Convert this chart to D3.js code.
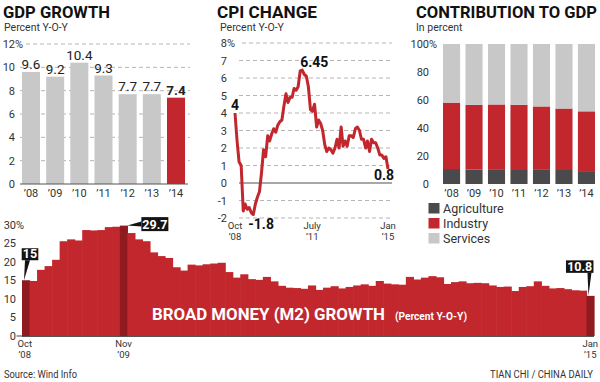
<!DOCTYPE html>
<html><head><meta charset="utf-8">
<script src="https://cdn.jsdelivr.net/npm/d3@7/dist/d3.min.js"></script>
<style>
body{margin:0;background:#fff}
svg{display:block}
text{font-family:Roboto,"Open Sans",sans-serif}
</style>
</head><body>
<svg id="chart" width="600" height="382"></svg>
<script>
// ---------------- DATA ----------------
const gdpYears = ["’08","’09","’10","’11","’12","’13","’14"];
const gdpValues = [9.6, 9.2, 10.4, 9.3, 7.7, 7.7, 7.4];
const gdpTicks = [0, 2, 4, 6, 8, 10, 12];

const cpiFirstMonth = "2008-10";
const cpiValues = [
  4.0, 2.4, 1.2,
  1.0, -1.6, -1.2, -1.5, -1.4, -1.7, -1.8, -1.2, -0.8, -0.5, 0.6, 1.9,
  1.5, 2.7, 2.4, 2.8, 3.1, 2.9, 3.3, 3.5, 3.6, 4.4, 5.1, 4.6,
  4.9, 4.9, 5.4, 5.3, 5.5, 6.4, 6.45, 6.2, 6.1, 5.5, 4.2, 4.1,
  4.5, 3.2, 3.6, 3.4, 3.0, 2.2, 1.8, 2.0, 1.9, 1.7, 2.0, 2.5,
  2.0, 3.2, 2.1, 2.4, 2.1, 2.7, 2.7, 2.6, 3.1, 3.2, 3.0, 2.5,
  2.5, 2.0, 2.4, 1.8, 2.5, 2.3, 2.3, 2.0, 1.6, 1.6, 1.4, 1.5,
  0.8
];
const cpiTicks = [-2, -1, 0, 1, 2, 3, 4, 5, 6, 7, 8];
const cpiLabelMonths = ["2008-10", "2011-07", "2015-01"];
const cpiLabelLine1 = ["Oct", "July", "Jan"];
const cpiLabelLine2 = ["’08", "’11", "’15"];

const contribYears = ["’08","’09","’10","’11","’12","’13","’14"];
const contribAgriculture = [10.7, 10.3, 10.1, 10.0, 10.1, 10.0, 9.2];
const contribIndustry    = [47.4, 46.2, 46.7, 46.6, 45.3, 43.9, 42.7];
const contribServices    = [41.9, 43.5, 43.2, 43.4, 44.6, 46.1, 48.1];
const contribTicks = [0, 20, 40, 60, 80, 100];
const contribSeries = ["Agriculture", "Industry", "Services"];

const m2FirstMonth = "2008-10";
const m2Values = [
  15.0, 14.8, 17.8,
  18.8, 20.5, 25.5, 26.0, 25.7, 28.5, 28.4, 28.5, 29.3, 29.4, 29.7, 27.7,
  26.0, 25.5, 22.5, 21.5, 21.0, 18.5, 17.6, 19.2, 19.0, 19.3, 19.5, 19.7,
  17.2, 15.7, 16.6, 15.3, 15.1, 15.9, 14.7, 13.5, 13.0, 12.9, 12.7, 13.6,
  12.4, 13.0, 13.4, 12.8, 13.2, 13.6, 13.9, 13.5, 14.8, 14.1, 13.9, 13.8,
  15.9, 15.2, 15.7, 16.1, 15.8, 14.0, 14.5, 14.7, 14.2, 14.3, 14.2, 13.6,
  13.2, 13.3, 12.1, 13.2, 13.4, 14.7, 13.5, 12.8, 12.9, 12.6, 12.3, 12.2,
  10.8
];
const m2Ticks = [0, 5, 10, 15, 20, 25, 30];
const m2HighlightMonths = ["2008-10", "2009-11", "2015-01"];
const m2CalloutLabels = ["15", "29.7", "10.8"];
const m2LabelMonths = ["2008-10", "2009-11", "2015-01"];
const m2LabelLine1 = ["Oct", "Nov", "Jan"];
const m2LabelLine2 = ["’08", "’09", "’15"];

// ---------------- STYLE ----------------
const RED = "#c1272d", DARKRED = "#8f1a1f", GRAY = "#c8c8c8", DARK = "#4a4a4c", TXT = "#333";
const svg = d3.select("#chart");
const parseM = d3.timeParse("%Y-%m");

function title(x, y, t, len) {
  svg.append("text").attr("x", x).attr("y", y).text(t)
    .attr("font-size", 16.5).attr("font-weight", 700).attr("fill", "#111")
    .attr("textLength", len).attr("lengthAdjust", "spacingAndGlyphs");
}
function sub(x, y, t) {
  svg.append("text").attr("x", x).attr("y", y).text(t)
    .attr("font-size", 10.5).attr("fill", TXT);
}
function yLabels(g, ticks, y, xEnd, topPct) {
  ticks.forEach((t, i) => {
    g.append("text").attr("x", xEnd).attr("y", y(t) + 4).attr("text-anchor", "end")
      .attr("font-size", 11).attr("fill", TXT).text(t);
    if (i === ticks.length - 1 && topPct)
      g.append("text").attr("x", xEnd).attr("y", y(t) + 4)
        .attr("font-size", 11).attr("fill", TXT).text("%");
  });
}
function twoLine(g, xx, y1, l1, l2) {
  g.append("text").attr("x", xx).attr("y", y1).attr("text-anchor", "middle")
    .attr("font-size", 9.5).attr("fill", TXT).text(l1);
  g.append("text").attr("x", xx).attr("y", y1 + 11).attr("text-anchor", "middle")
    .attr("font-size", 9.5).attr("fill", TXT).text(l2);
}

// ---------------- GDP GROWTH ----------------
title(3, 18, "GDP GROWTH", 107);
sub(4, 31, "Percent Y-O-Y");
{
  const g = svg.append("g");
  const y = d3.scaleLinear().domain([0, 12]).range([184, 44]);
  const x = d3.scaleBand().domain(gdpYears).range([18.9, 188.1]).paddingInner(0.255).paddingOuter(0.1275);
  gdpTicks.forEach((t, i) => {
    if (t === 0) return;
    g.append("line").attr("x1", i === gdpTicks.length - 1 ? 26 : 20).attr("x2", 190)
      .attr("y1", y(t)).attr("y2", y(t))
      .attr("stroke", "#b5b5b5").attr("stroke-dasharray", "4,3");
  });
  yLabels(g, gdpTicks, y, 15, true);
  g.selectAll("rect").data(gdpValues).join("rect")
    .attr("x", (d, i) => x(gdpYears[i])).attr("width", x.bandwidth())
    .attr("y", d => y(d)).attr("height", d => y(0) - y(d))
    .attr("fill", (d, i) => i === gdpValues.length - 1 ? RED : GRAY);
  g.append("line").attr("x1", 20).attr("x2", 188).attr("y1", y(0)).attr("y2", y(0))
    .attr("stroke", "#555").attr("stroke-width", 1);
  gdpValues.forEach((d, i) => {
    g.append("text").attr("x", x(gdpYears[i]) + x.bandwidth() / 2).attr("y", y(d) - 3)
      .attr("text-anchor", "middle").attr("font-size", 13.5)
      .attr("font-weight", i === gdpValues.length - 1 ? 700 : 400).attr("fill", "#222")
      .text(d);
    g.append("text").attr("x", x(gdpYears[i]) + x.bandwidth() / 2).attr("y", 197)
      .attr("text-anchor", "middle").attr("font-size", 11).attr("fill", TXT).text(gdpYears[i]);
  });
}

// ---------------- CPI CHANGE ----------------
title(217, 18, "CPI CHANGE", 100);
sub(220, 31, "Percent Y-O-Y");
{
  const g = svg.append("g");
  const y = d3.scaleLinear().domain([-2, 8]).range([218, 43]);
  const months = d3.timeMonth.range(parseM(cpiFirstMonth), d3.timeMonth.offset(parseM(cpiFirstMonth), cpiValues.length));
  const x = d3.scaleTime().domain([months[0], months[months.length - 1]]).range([235, 388]);
  cpiTicks.forEach((t, i) => {
    g.append("line").attr("x1", i === cpiTicks.length - 1 ? 242 : 239).attr("x2", 392)
      .attr("y1", y(t)).attr("y2", y(t))
      .attr("stroke", t === 0 ? "#8a8a8a" : "#b5b5b5")
      .attr("stroke-width", t === 0 ? 1.5 : 1)
      .attr("stroke-dasharray", t === 0 ? null : "4,3");
  });
  yLabels(g, cpiTicks, y, 227, true);
  const line = d3.line().x((d, i) => x(months[i])).y(d => y(d));
  g.append("path").datum(cpiValues).attr("d", line)
    .attr("fill", "none").attr("stroke", RED).attr("stroke-width", 3)
    .attr("stroke-linejoin", "round");
  const iMax = cpiValues.indexOf(d3.max(cpiValues));
  const iMin = cpiValues.indexOf(d3.min(cpiValues));
  const iLast = cpiValues.length - 1;
  const lab = (xx, yy, t, anchor) => g.append("text").attr("x", xx).attr("y", yy)
    .attr("text-anchor", anchor).attr("font-size", 14).attr("font-weight", 700).attr("fill", "#111").text(t);
  lab(x(months[0]), y(cpiValues[0]) - 3, "4", "middle");
  lab(x(months[iMax]) - 2, y(cpiValues[iMax]) - 3, "6.45", "start");
  lab(x(months[iMin]) - 5, y(cpiValues[iMin]) + 14, "-1.8", "start");
  lab(x(months[iLast]) + 6, y(cpiValues[iLast]) + 11, "0.8", "end");
  cpiLabelMonths.forEach((m, i) => {
    const xx = x(parseM(m)) + (i === 1 ? 10 : 0);
    twoLine(g, xx, 229, cpiLabelLine1[i], cpiLabelLine2[i]);
  });
}

// ---------------- CONTRIBUTION TO GDP ----------------
title(416, 18, "CONTRIBUTION TO GDP", 181);
sub(416, 31, "In percent");
{
  const g = svg.append("g");
  const y = d3.scaleLinear().domain([0, 100]).range([184, 44]);
  const x = d3.scaleBand().domain(contribYears).range([440.3, 597.7]).paddingInner(0.24).paddingOuter(0.12);
  yLabels(g, contribTicks, y, 429, true);
  const rows = contribYears.map((yr, i) => ({ yr, Agriculture: contribAgriculture[i], Industry: contribIndustry[i], Services: contribServices[i] }));
  const stack = d3.stack().keys(contribSeries)(rows);
  const color = d3.scaleOrdinal().domain(contribSeries).range([DARK, RED, GRAY]);
  g.selectAll("g.s").data(stack).join("g").attr("fill", s => color(s.key))
    .selectAll("rect").data(s => s).join("rect")
    .attr("x", d => x(d.data.yr)).attr("width", x.bandwidth())
    .attr("y", d => y(Math.min(100, d[1]))).attr("height", d => y(d[0]) - y(Math.min(100, d[1])));
  contribYears.forEach(yr => g.append("text").attr("x", x(yr) + x.bandwidth() / 2).attr("y", 197)
    .attr("text-anchor", "middle").attr("font-size", 11).attr("fill", TXT).text(yr));
  contribSeries.forEach((s, i) => {
    g.append("rect").attr("x", 428.5).attr("y", 203 + i * 15).attr("width", 11).attr("height", 10.5).attr("fill", color(s));
    g.append("text").attr("x", 443).attr("y", 212.5 + i * 15).attr("font-size", 12.5).attr("fill", TXT).text(s);
  });
}

// ---------------- BROAD MONEY (M2) GROWTH ----------------
{
  const g = svg.append("g");
  const months = d3.timeMonth.range(parseM(m2FirstMonth), d3.timeMonth.offset(parseM(m2FirstMonth), m2Values.length));
  const key = d3.timeFormat("%Y-%m");
  const x = d3.scaleBand().domain(months.map(key)).range([22, 594]).padding(0);
  const y = d3.scaleLinear().domain([0, 30]).range([336, 224.5]);
  m2Ticks.forEach((t, i) => {
    g.append("text").attr("x", 16).attr("y", y(t) + 4).attr("text-anchor", "end")
      .attr("font-size", 11).attr("fill", TXT).text(t);
    if (i === m2Ticks.length - 1)
      g.append("text").attr("x", 16).attr("y", y(t) + 4).attr("font-size", 11).attr("fill", TXT).text("%");
  });
  g.append("line").attr("x1", 16.5).attr("x2", 22).attr("y1", y(0)).attr("y2", y(0)).attr("stroke", "#444");
  g.selectAll("rect.m").data(m2Values).join("rect").attr("class", "m")
    .attr("x", (d, i) => x(key(months[i]))).attr("width", x.bandwidth() + 0.6)
    .attr("y", d => y(d)).attr("height", d => y(0) - y(d))
    .attr("fill", (d, i) => m2HighlightMonths.includes(key(months[i])) ? DARKRED : RED);
  g.append("line").attr("x1", 22).attr("x2", 594).attr("y1", y(0) + 0.5).attr("y2", y(0) + 0.5).attr("stroke", "#555");
  g.append("text").attr("x", 152).attr("y", 320).attr("font-size", 17).attr("font-weight", 700)
    .attr("fill", "#fff").attr("textLength", 233).attr("lengthAdjust", "spacingAndGlyphs").text("BROAD MONEY (M2) GROWTH");
  g.append("text").attr("x", 395).attr("y", 320).attr("font-size", 10).attr("font-weight", 700)
    .attr("fill", "#fff").attr("textLength", 72).attr("lengthAdjust", "spacingAndGlyphs").text("(Percent Y-O-Y)");
  m2HighlightMonths.forEach((m, k) => {
    const idx = months.map(key).indexOf(m);
    const v = m2Values[idx];
    const bx = x(m), bw = x.bandwidth(), top = y(v);
    const t = m2CalloutLabels[k];
    let box, tri;
    if (k === 0) {
      box = [bx - 0.3, top - 32, 16.6, 12];
      tri = [[bx + 3, top - 20], [bx + 8, top - 20], [bx + 2, top]];
    } else if (k === 1) {
      box = [bx + bw + 14, top - 8.5, 27, 14];
      tri = [[bx + bw + 14, top - 4], [bx + bw + 14, top + 1], [bx + bw, top]];
    } else {
      box = [bx - 20.5, top - 35.5, 27.5, 12.5];
      tri = [[bx + 1, top - 23], [bx + 5, top - 23], [bx + 2, top]];
    }
    g.append("rect").attr("x", box[0]).attr("y", box[1]).attr("width", box[2]).attr("height", box[3]).attr("fill", "#141414");
    g.append("polygon").attr("points", tri.map(p => p.join(",")).join(" ")).attr("fill", "#141414");
    g.append("text").attr("x", box[0] + box[2] / 2).attr("y", box[1] + box[3] - 2)
      .attr("text-anchor", "middle").attr("font-size", 12.5).attr("font-weight", 700).attr("fill", "#fff").text(t);
  });
  m2LabelMonths.forEach((m, i) => {
    const xx = x(m) + x.bandwidth() / 2 + (i === 0 ? -1 : 0);
    twoLine(g, xx, 346.5, m2LabelLine1[i], m2LabelLine2[i]);
  });
}

// ---------------- FOOTER ----------------
svg.append("text").attr("x", 4).attr("y", 378).attr("font-size", 10).attr("fill", TXT)
  .attr("textLength", 73).attr("lengthAdjust", "spacingAndGlyphs").text("Source: Wind Info");
svg.append("text").attr("x", 490).attr("y", 378).attr("font-size", 10).attr("fill", TXT)
  .attr("textLength", 103).attr("lengthAdjust", "spacingAndGlyphs").text("TIAN CHI / CHINA DAILY");
</script>
</body></html>
